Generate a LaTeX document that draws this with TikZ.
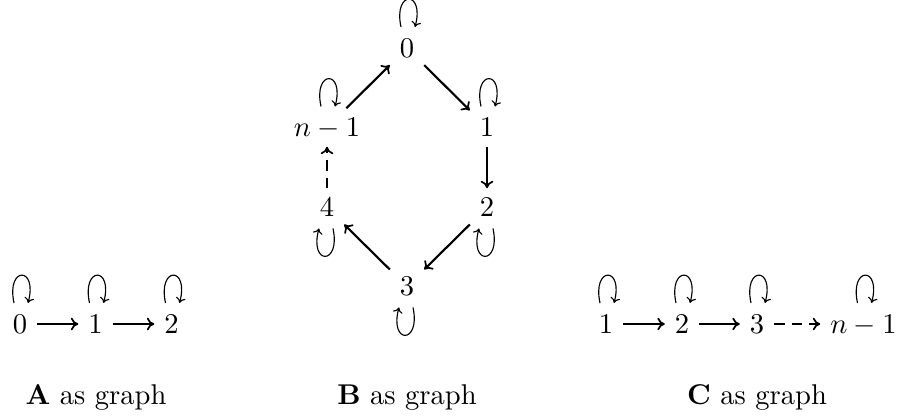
\documentclass[tikz,border=0pt]{standalone}
\usetikzlibrary{arrows.meta}
\begin{document}
\begin{tikzpicture}[x=0.35pt,y=-0.35pt,
  num/.style={inner sep=3.33pt, text height=6.44pt, text depth=0pt},
  arr/.style={-{Computer Modern Rightarrow[length=2.6pt,width=4.4pt,line width=0.6pt]}, line width=0.75pt},
  dsh/.style={dash pattern=on 3.7pt off 2.4pt},
  lbl/.style={anchor=base, inner sep=0pt},
  lp/.style={-{Computer Modern Rightarrow[length=1.9pt,width=3.4pt,line width=0.4pt]}, line width=0.4pt},
  loopup/.style={lp,
    to path={([shift={(-6,-21)}]\tikztostart.center) .. controls +(-8,-37) and +(10,-37) .. ([shift={(8,-21)}]\tikztostart.center)}},
  loopdown/.style={lp,
    to path={([shift={(6,21)}]\tikztostart.center) .. controls +(8,37) and +(-10,37) .. ([shift={(-8,21)}]\tikztostart.center)}}
]
\useasboundingbox (0,0) rectangle (899,420);

% A
\node[num] (a0) at (20,324) {$0$};
\node[num] (a1) at (95.5,324) {$1$};
\node[num] (a2) at (171.5,324) {$2$};
\draw[arr] (a0) -- (a1);
\draw[arr] (a1) -- (a2);
\draw[loopup] (a0) to (a0);
\draw[loopup] (a1) to (a1);
\draw[loopup] (a2) to (a2);
\node[lbl] (la) at (96,405) {\textbf{A} as graph};

% B
\node[num] (b0) at (407,48) {$0$};
\node[num] (bn) at (327,127.5) {$n-1$};
\node[num] (b1) at (487,127.5) {$1$};
\node[num] (b4) at (327,207.5) {$4$};
\node[num] (b2) at (487,207.5) {$2$};
\node[num] (b3) at (407,286.5) {$3$};
\draw[arr] (bn) -- (b0);
\draw[arr] (b0) -- (b1);
\draw[arr] (b1) -- (b2);
\draw[arr] (b2) -- (b3);
\draw[arr] (b3) -- (b4);
\draw[arr,dsh] (b4) -- (bn);
\draw[loopup] (b0) to (b0);
\draw[loopup] (bn) to (bn);
\draw[loopup] (b1) to (b1);
\draw[loopdown] (b4) to (b4);
\draw[loopdown] (b2) to (b2);
\draw[loopdown] (b3) to (b3);
\node[lbl] (lb) at (407,405) {\textbf{B} as graph};

% C
\node[num] (c1) at (606,324) {$1$};
\node[num] (c2) at (682,324) {$2$};
\node[num] (c3) at (757,324) {$3$};
\node[num] (cn) at (863.5,324) {$n-1$};
\draw[arr] (c1) -- (c2);
\draw[arr] (c2) -- (c3);
\draw[arr,dsh] (c3) -- (cn);
\draw[loopup] (c1) to (c1);
\draw[loopup] (c2) to (c2);
\draw[loopup] (c3) to (c3);
\draw[loopup] (cn) to (cn);
\node[lbl] (lc) at (757,405) {\textbf{C} as graph};
\end{tikzpicture}
\end{document}
